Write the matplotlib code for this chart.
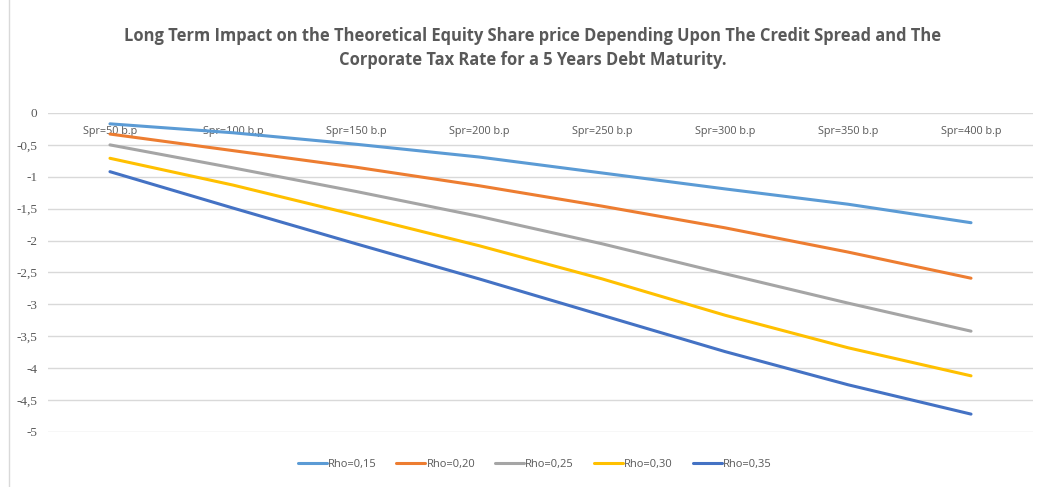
import matplotlib.pyplot as plt
from matplotlib.patches import Rectangle

categories = ["Spr=50 b.p", "Spr=100 b.p", "Spr=150 b.p", "Spr=200 b.p",
              "Spr=250 b.p", "Spr=300 b.p", "Spr=350 b.p", "Spr=400 b.p"]

rho_015 = [-0.17, -0.31, -0.49, -0.69, -0.94, -1.19, -1.43, -1.72]
rho_020 = [-0.33, -0.59, -0.85, -1.14, -1.46, -1.80, -2.18, -2.59]
rho_025 = [-0.50, -0.86, -1.23, -1.62, -2.05, -2.52, -2.98, -3.42]
rho_030 = [-0.71, -1.13, -1.60, -2.08, -2.60, -3.17, -3.68, -4.12]
rho_035 = [-0.92, -1.49, -2.05, -2.60, -3.17, -3.74, -4.26, -4.72]

series = [("Rho=0,15", rho_015, "#5B9BD5"),
          ("Rho=0,20", rho_020, "#ED7D31"),
          ("Rho=0,25", rho_025, "#A5A5A5"),
          ("Rho=0,30", rho_030, "#FFC000"),
          ("Rho=0,35", rho_035, "#4472C4")]

yticks = [0, -0.5, -1, -1.5, -2, -2.5, -3, -3.5, -4, -4.5, -5]

fig = plt.figure(figsize=(10.4, 4.87), dpi=100)
fig.patches.append(Rectangle((0.009, -0.01), 1.0, 1.02, transform=fig.transFigure,
                             fill=False, edgecolor="#D9D9D9", linewidth=1))
ax = fig.add_axes([0.0466, 0.113, 0.9462, 0.655])

x = list(range(len(categories)))
for name, vals, col in series:
    ax.plot(x, vals, color=col, linewidth=2.2, label=name, solid_capstyle="round")

ax.set_xlim(-0.5, len(categories) - 0.5)
ax.set_ylim(-5, 0)
ax.set_yticks(yticks)
ax.set_yticklabels([("%g" % v).replace(".", ",") for v in yticks],
                   fontfamily="Liberation Serif", fontsize=9.5, color="#595959")
ax.yaxis.grid(True, color="#D9D9D9", linewidth=1)
ax.set_axisbelow(True)
for s in ax.spines.values():
    s.set_visible(False)
ax.tick_params(axis="y", length=0, pad=8)

ax.set_xticks(x)
ax.set_xticklabels(categories, fontfamily="Open Sans", fontsize=7.8, color="#595959")
ax.xaxis.set_ticks_position("top")
ax.tick_params(axis="x", length=0, pad=-17)

fig.text(0.512, 0.902, "Long Term Impact on the Theoretical Equity Share price Depending Upon The Credit Spread and The\n"
         "Corporate Tax Rate for a 5 Years Debt Maturity.",
         ha="center", va="center", fontsize=11.9, fontweight="bold",
         fontfamily="Open Sans", color="#595959", linespacing=1.4)

leg = fig.legend(loc="center", bbox_to_anchor=(0.514, 0.047), ncol=5, frameon=False,
                 prop={"family": "Open Sans", "size": 8}, handlelength=2.6,
                 handletextpad=0.1, columnspacing=1.8)
for t in leg.get_texts():
    t.set_color("#595959")

fig.savefig("out.png", dpi=100)
